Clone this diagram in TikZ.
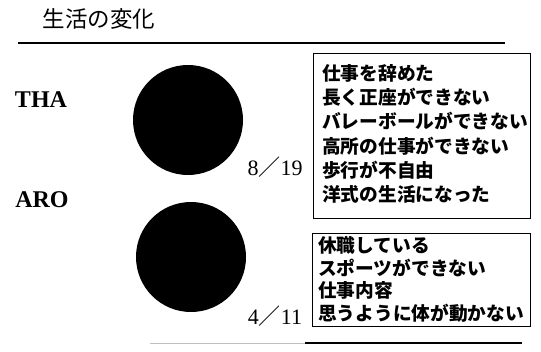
\documentclass[tikz,border=0pt]{standalone}
\usepackage{fontspec}
\setmainfont{Liberation Serif}
\newfontfamily\jp{Noto Sans CJK JP}
\tikzset{
  rule/.style={line width=2pt},
  listbox/.style={draw, line width=1.3pt, anchor=north west, inner sep=0pt},
  item/.style={anchor=west, inner sep=0pt, font=\jp\bfseries\fontsize{18.7}{18.7}\selectfont},
  group/.style={anchor=center, inner sep=0pt, font=\bfseries\fontsize{24}{24}\selectfont},
  ratio/.style={anchor=center, inner sep=0pt, font=\fontsize{22}{22}\selectfont},
  disc/.style={circle, fill=black, inner sep=0pt, minimum size=110pt}
}
\begin{document}
\begin{tikzpicture}[x=1pt,y=-1pt]
\useasboundingbox (0,0) rectangle (541,351);
% title
\node[anchor=center, inner sep=0pt, font=\jp\fontsize{22.5}{22.5}\selectfont] (title) at (99,19) {生活の変化};
\coordinate (tl) at (18,43);
\coordinate (tr) at (505,43);
\draw[rule] (tl) -- (tr);
% THA
\node[group] (tha) at (41,100) {THA};
\node[disc] (c1) at (188,120) {};
\node[ratio] (r1) at (275,167) {8{\jp ／}19};
\node[listbox, minimum width=217pt, minimum height=165pt] (b1) at (313,53) {};
\node[item] (a1) at (322,73) {仕事を辞めた};
\node[item] (a2) at (322,97) {長く正座ができない};
\node[item] (a3) at (322,121) {バレーボールができない};
\node[item] (a4) at (322,146) {高所の仕事ができない};
\node[item] (a5) at (322,170) {歩行が不自由};
\node[item] (a6) at (322,194) {洋式の生活になった};
% ARO
\node[group] (aro) at (42,200) {ARO};
\node[disc] (c2) at (191,257) {};
\node[ratio] (r2) at (275,316) {4{\jp ／}11};
\node[listbox, minimum width=218pt, minimum height=93pt] (b2) at (312,233) {};
\node[item] (d1) at (318,245) {休職している};
\node[item] (d2) at (318,268) {スポーツができない};
\node[item] (d3) at (318,290) {仕事内容};
\node[item] (d4) at (318,313) {思うように体が動かない};
% bottom rule
\coordinate (bl0) at (150,343);
\coordinate (bl) at (305,343);
\coordinate (br) at (522,343);
\draw[line width=1pt, black!25] (bl0) -- (bl);
\draw[rule] (bl) -- (br);
\end{tikzpicture}
\end{document}
